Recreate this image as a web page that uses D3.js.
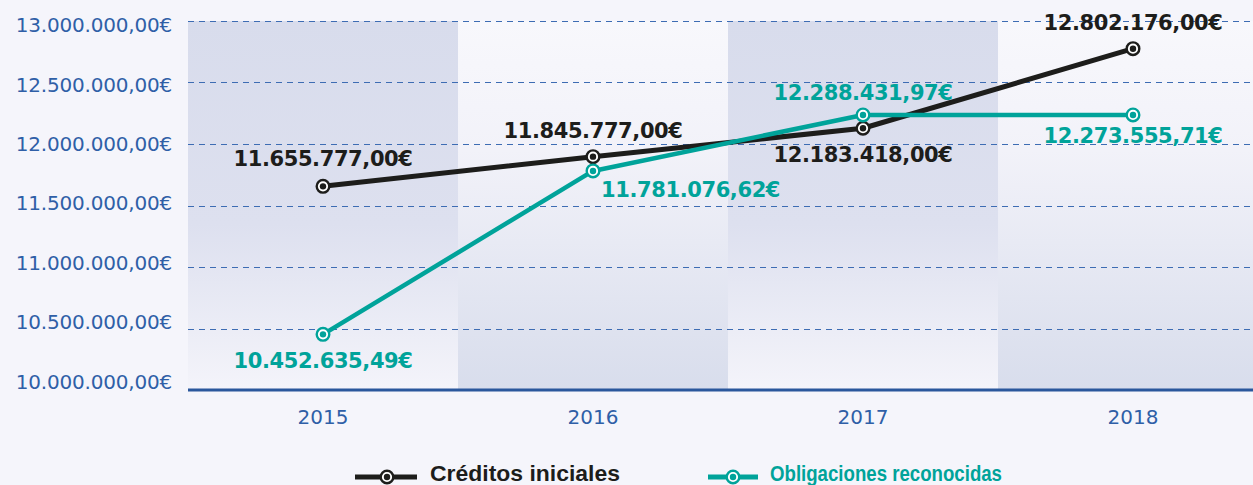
<!DOCTYPE html>
<html>
<head>
<meta charset="utf-8">
<script src="https://cdn.jsdelivr.net/npm/d3@7"></script>
<style>
  html, body { margin: 0; padding: 0; background: #f5f5fb; }
  svg { display: block; }
</style>
</head>
<body>
<svg id="chart" width="1253" height="485"></svg>
<script>
// data
var years = ["2015", "2016", "2017", "2018"];
var creditos = [11655777, 11897000, 12128000, 12775000];
var obligaciones = [10452635, 11781077, 12236000, 12236000];
var creditosLabels = ["11.655.777,00€", "11.845.777,00€", "12.183.418,00€", "12.802.176,00€"];
var obligacionesLabels = ["10.452.635,49€", "11.781.076,62€", "12.288.431,97€", "12.273.555,71€"];
var yTicks = [10000000, 10500000, 11000000, 11500000, 12000000, 12500000, 13000000];
var yTickLabels = ["10.000.000,00€", "10.500.000,00€", "11.000.000,00€", "11.500.000,00€",
                   "12.000.000,00€", "12.500.000,00€", "13.000.000,00€"];

var black = "#1d1d1b", teal = "#00a39a", blue = "#2f5fa7";

var svg = d3.select("#chart");
var plotLeft = 188, plotRight = 1268, plotTop = 21, plotBottom = 390;

var x = d3.scaleBand().domain(years).range([plotLeft, plotRight]).padding(0);
var y = d3.scaleLinear().domain([10000000, 13000000]).range([plotBottom, plotTop]);
// tick text sits on a slightly tighter spacing than the grid
var yText = d3.scaleLinear().domain([10000000, 13000000]).range([381.5, 25]);
var cx = function(d, i) { return x(years[i]) + x.bandwidth() / 2; };

// band backgrounds
var defs = svg.append("defs");
var gDark = defs.append("linearGradient").attr("id", "bandDark")
    .attr("x1", 0).attr("y1", 0).attr("x2", 0).attr("y2", 1);
gDark.append("stop").attr("offset", 0).attr("stop-color", "#d8dcec");
gDark.append("stop").attr("offset", 0.55).attr("stop-color", "#dde0ef");
gDark.append("stop").attr("offset", 1).attr("stop-color", "#f4f4fa");
var gLight = defs.append("linearGradient").attr("id", "bandLight")
    .attr("x1", 0).attr("y1", 0).attr("x2", 0).attr("y2", 1);
gLight.append("stop").attr("offset", 0).attr("stop-color", "#f8f8fc");
gLight.append("stop").attr("offset", 0.35).attr("stop-color", "#f2f2f9");
gLight.append("stop").attr("offset", 1).attr("stop-color", "#d8ddec");

svg.append("g").selectAll("rect").data(years).join("rect")
    .attr("x", function(d) { return x(d); })
    .attr("y", plotTop)
    .attr("width", x.bandwidth())
    .attr("height", plotBottom - plotTop)
    .attr("fill", function(d, i) { return i % 2 === 0 ? "url(#bandDark)" : "url(#bandLight)"; });

// grid
svg.append("g").selectAll("line").data(yTicks.slice(1)).join("line")
    .attr("x1", plotLeft).attr("x2", 1253)
    .attr("y1", function(d) { return Math.round(y(d)) + 0.5; })
    .attr("y2", function(d) { return Math.round(y(d)) + 0.5; })
    .attr("stroke", "#3d6cb3")
    .attr("stroke-width", 1.2)
    .attr("stroke-dasharray", "6,5");

// axis line
svg.append("line")
    .attr("x1", plotLeft).attr("x2", 1253)
    .attr("y1", plotBottom).attr("y2", plotBottom)
    .attr("stroke", "#2a579c").attr("stroke-width", 3);

// y tick labels
svg.append("g").selectAll("text").data(yTicks).join("text")
    .attr("x", 172)
    .attr("y", function(d) { return yText(d); })
    .attr("dy", "0.36em")
    .attr("text-anchor", "end")
    .attr("font-family", "DejaVu Sans")
    .attr("font-size", 20)
    .attr("letter-spacing", -0.2)
    .attr("fill", blue)
    .text(function(d, i) { return yTickLabels[i]; });

// x labels
svg.append("g").selectAll("text").data(years).join("text")
    .attr("x", function(d) { return x(d) + x.bandwidth() / 2; })
    .attr("y", 424)
    .attr("text-anchor", "middle")
    .attr("font-family", "DejaVu Sans")
    .attr("font-size", 20)
    .attr("fill", blue)
    .text(function(d) { return d; });

// lines
var line = d3.line().x(cx).y(function(d) { return y(d); });

function drawSeries(values, color, width) {
    svg.append("path").datum(values)
        .attr("d", line)
        .attr("fill", "none")
        .attr("stroke", color)
        .attr("stroke-width", width)
        .attr("stroke-linejoin", "round");
    var g = svg.append("g");
    g.selectAll("circle.outer").data(values).join("circle")
        .attr("class", "outer")
        .attr("cx", cx).attr("cy", function(d) { return y(d); })
        .attr("r", 6.3)
        .attr("fill", "#fff").attr("stroke", color).attr("stroke-width", 2.4);
    g.selectAll("circle.inner").data(values).join("circle")
        .attr("class", "inner")
        .attr("cx", cx).attr("cy", function(d) { return y(d); })
        .attr("r", 3.2)
        .attr("fill", color);
}
drawSeries(creditos, black, 5);
drawSeries(obligaciones, teal, 4.5);

// value labels: above or below the point
var creditosPlace = [-28, -26, 26, -26];
var obligacionesPlace = [26, 19, -23, 20];

function drawLabels(values, labels, place, color) {
    svg.append("g").selectAll("text").data(values).join("text")
        .attr("x", function(d, i) { return i === 1 && color === teal ? cx(d, i) + 8 : cx(d, i); })
        .attr("y", function(d, i) { return y(d) + place[i]; })
        .attr("dy", "0.36em")
        .attr("text-anchor", function(d, i) { return i === 1 && color === teal ? "start" : "middle"; })
        .attr("font-family", "DejaVu Sans")
        .attr("font-weight", "bold")
        .attr("font-size", 21)
        .attr("letter-spacing", -0.4)
        .attr("fill", color)
        .text(function(d, i) { return labels[i]; });
}
drawLabels(creditos, creditosLabels, creditosPlace, black);
drawLabels(obligaciones, obligacionesLabels, obligacionesPlace, teal);

// legend
var legend = [
    { name: "Créditos iniciales", color: black, x: 355 },
    { name: "Obligaciones reconocidas", color: teal, x: 708 }
];
var lg = svg.append("g").selectAll("g").data(legend).join("g")
    .attr("transform", function(d) { return "translate(" + d.x + ",477)"; });
lg.append("line")
    .attr("x1", 0).attr("x2", function(d, i) { return i === 0 ? 62 : 50; })
    .attr("stroke", function(d) { return d.color; })
    .attr("stroke-width", 5);
lg.append("circle")
    .attr("cx", function(d, i) { return i === 0 ? 32 : 25; })
    .attr("r", 6.3).attr("fill", "#fff")
    .attr("stroke", function(d) { return d.color; }).attr("stroke-width", 2.4);
lg.append("circle")
    .attr("cx", function(d, i) { return i === 0 ? 32 : 25; })
    .attr("r", 3.2).attr("fill", function(d) { return d.color; });
lg.append("text")
    .attr("x", function(d, i) { return i === 0 ? 75 : 62; })
    .attr("y", 4)
    .attr("font-family", "Liberation Sans")
    .attr("font-weight", "bold")
    .attr("font-size", 22)
    .attr("textLength", function(d, i) { return i === 0 ? 190 : 232; })
    .attr("lengthAdjust", "spacingAndGlyphs")
    .attr("fill", function(d) { return d.color; })
    .text(function(d) { return d.name; });
</script>
</body>
</html>
